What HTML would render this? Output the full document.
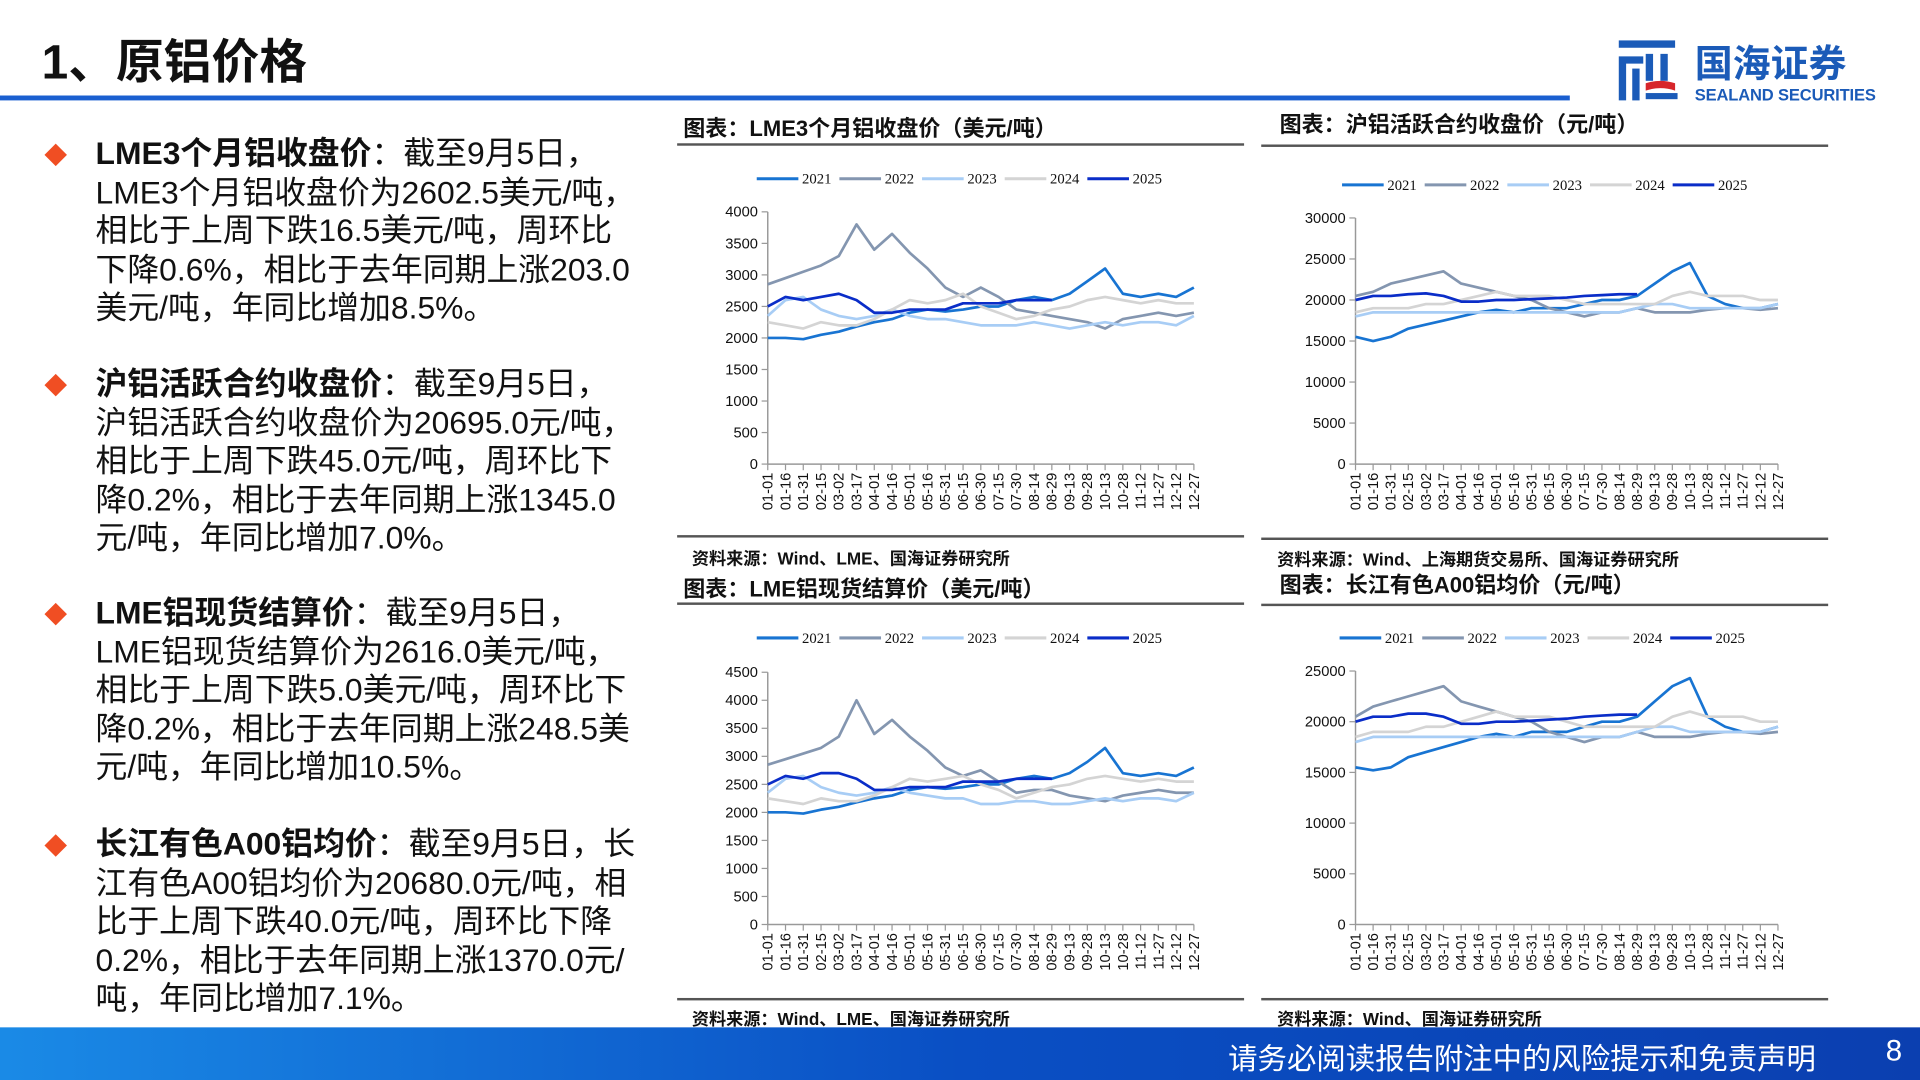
<!DOCTYPE html>
<html><head><meta charset="utf-8">
<style>
html,body{margin:0;padding:0;background:#fff;}
body{width:1920px;height:1080px;overflow:hidden;font-family:"Liberation Sans","Noto Sans CJK SC",sans-serif;}
#wrap{position:absolute;left:0;top:0;width:1568px;height:882px;transform:scale(1.22449);transform-origin:0 0;}
.abs{position:absolute;}
.bul{position:absolute;left:78px;font-size:26px;line-height:31.5px;color:#111;white-space:nowrap;}
.bul b{font-weight:bold;}
.dia{position:absolute;left:39px;width:13px;height:13px;background:#f04e23;transform:rotate(45deg);}
.ct{position:absolute;font-size:18px;font-weight:bold;color:#111;white-space:nowrap;}
.ln{position:absolute;height:2px;background:#555;}
.src{position:absolute;font-size:14px;font-weight:bold;color:#111;white-space:nowrap;}
svg text{font-family:"Liberation Sans",sans-serif;}
</style></head><body>
<div id="wrap">
<div class="abs" style="left:34px;top:20px;font-size:39px;font-weight:bold;color:#111;">1、原铝价格</div>
<div class="abs" style="left:0;top:78px;width:1282px;height:4px;background:#1a5fd0;"></div>
<div class="abs" style="left:1318px;top:30px;width:220px;height:58px;">
<svg width="220" height="58" viewBox="0 0 220 58">
<rect x="4" y="3" width="46" height="6" fill="#1b5bb8"/>
<path d="M4 16 h20 v6 h-14 v30 h-6z" fill="#1b5bb8"/>
<rect x="15" y="26" width="6" height="26" fill="#1b5bb8"/>
<rect x="26" y="14" width="6" height="22" fill="#1b5bb8"/>
<rect x="38" y="14" width="6" height="22" fill="#1b5bb8"/>
<path d="M26 38 q12 -4 24 0 v6 q-12 -4 -24 0z" fill="#d7262b"/>
<rect x="26" y="46" width="26" height="5" fill="#1b5bb8"/>
<text x="66" y="33" font-size="31" font-weight="bold" fill="#1b5bb8" style="font-family:'Noto Sans CJK SC',sans-serif">国海证券</text>
<text x="66" y="52" font-size="13.5" font-weight="bold" fill="#1b5bb8" textLength="148">SEALAND SECURITIES</text>
</svg></div>

<div class="dia" style="top:120px"></div>
<div class="bul" style="top:110px"><b>LME3个月铝收盘价</b>：截至9月5日，<br>LME3个月铝收盘价为2602.5美元/吨，<br>相比于上周下跌16.5美元/吨，周环比<br>下降0.6%，相比于去年同期上涨203.0<br>美元/吨，年同比增加8.5%。</div>
<div class="dia" style="top:308px"></div>
<div class="bul" style="top:298px"><b>沪铝活跃合约收盘价</b>：截至9月5日，<br>沪铝活跃合约收盘价为20695.0元/吨，<br>相比于上周下跌45.0元/吨，周环比下<br>降0.2%，相比于去年同期上涨1345.0<br>元/吨，年同比增加7.0%。</div>
<div class="dia" style="top:495px"></div>
<div class="bul" style="top:485px"><b>LME铝现货结算价</b>：截至9月5日，<br>LME铝现货结算价为2616.0美元/吨，<br>相比于上周下跌5.0美元/吨，周环比下<br>降0.2%，相比于去年同期上涨248.5美<br>元/吨，年同比增加10.5%。</div>
<div class="dia" style="top:684px"></div>
<div class="bul" style="top:674px"><b>长江有色A00铝均价</b>：截至9月5日，长<br>江有色A00铝均价为20680.0元/吨，相<br>比于上周下跌40.0元/吨，周环比下降<br>0.2%，相比于去年同期上涨1370.0元/<br>吨，年同比增加7.1%。</div>

<div class="ct" style="left:558px;top:91px">图表：LME3个月铝收盘价（美元/吨）</div>
<div class="ln" style="left:553px;top:117px;width:463px"></div>
<div class="ln" style="left:553px;top:437px;width:463px"></div>
<div class="src" style="left:565px;top:446px">资料来源：Wind、LME、国海证券研究所</div>

<div class="ct" style="left:1045px;top:88px">图表：沪铝活跃合约收盘价（元/吨）</div>
<div class="ln" style="left:1030px;top:118px;width:463px"></div>
<div class="ln" style="left:1030px;top:439px;width:463px"></div>
<div class="src" style="left:1043px;top:447px">资料来源：Wind、上海期货交易所、国海证券研究所</div>

<div class="ct" style="left:558px;top:467px">图表：LME铝现货结算价（美元/吨）</div>
<div class="ln" style="left:553px;top:492px;width:463px"></div>
<div class="ln" style="left:553px;top:815px;width:463px"></div>
<div class="src" style="left:565px;top:822px">资料来源：Wind、LME、国海证券研究所</div>

<div class="ct" style="left:1045px;top:464px">图表：长江有色A00铝均价（元/吨）</div>
<div class="ln" style="left:1030px;top:493px;width:463px"></div>
<div class="ln" style="left:1030px;top:815px;width:463px"></div>
<div class="src" style="left:1043px;top:822px">资料来源：Wind、国海证券研究所</div>

<svg id="charts" class="abs" style="left:0;top:0" width="1568" height="882"></svg>

<div class="abs" style="left:0;top:839px;width:1568px;height:43px;background:linear-gradient(90deg,#1a8ae6 0%,#0a4fc4 50%,#0b3fb0 100%);"></div>
<div class="abs" style="left:1003px;top:845px;font-size:24px;color:#fff;white-space:nowrap;">请务必阅读报告附注中的风险提示和免责声明</div>
<div class="abs" style="left:1540px;top:845px;font-size:24px;color:#fff;">8</div>
</div>
<script>
var xLabels=["01-01","01-16","01-31","02-15","03-02","03-17","04-01","04-16","05-01","05-16","05-31","06-15","06-30","07-15","07-30","08-14","08-29","09-13","09-28","10-13","10-28","11-12","11-27","12-12","12-27"];
var years=["2021","2022","2023","2024","2025"];
var colors=["#1874d2","#8496b0","#a8cdf5","#d4d4d4","#0a2dc8"];
var c1Ticks=[0,500,1000,1500,2000,2500,3000,3500,4000];
var c1_2021=[2000,2000,1980,2050,2100,2180,2250,2300,2400,2450,2420,2450,2500,2500,2600,2650,2600,2700,2900,3100,2700,2650,2700,2650,2800];
var c1_2022=[2850,2950,3050,3150,3300,3800,3400,3650,3350,3100,2800,2650,2800,2650,2450,2400,2350,2300,2250,2150,2300,2350,2400,2350,2400];
var c1_2023=[2350,2600,2650,2450,2350,2300,2350,2450,2350,2300,2300,2250,2200,2200,2200,2250,2200,2150,2200,2250,2200,2250,2250,2200,2350];
var c1_2024=[2250,2200,2150,2250,2200,2200,2300,2450,2600,2550,2600,2700,2500,2400,2300,2350,2450,2500,2600,2650,2600,2550,2600,2550,2550];
var c1_2025=[2500,2650,2600,2650,2700,2600,2400,2400,2450,2450,2450,2550,2550,2550,2600,2600,2600];
var c3Ticks=[0,500,1000,1500,2000,2500,3000,3500,4000,4500];
var c3_2021=[2000,2000,1980,2050,2100,2180,2250,2300,2400,2450,2420,2450,2500,2500,2600,2650,2600,2700,2900,3150,2700,2650,2700,2650,2800];
var c3_2022=[2850,2950,3050,3150,3350,4000,3400,3650,3350,3100,2800,2650,2750,2550,2350,2400,2400,2300,2250,2200,2300,2350,2400,2350,2350];
var c3_2023=[2350,2600,2650,2450,2350,2300,2350,2450,2350,2300,2250,2250,2150,2150,2200,2200,2150,2150,2200,2250,2200,2250,2250,2200,2350];
var c3_2024=[2250,2200,2150,2250,2200,2200,2300,2450,2600,2550,2600,2650,2500,2400,2250,2350,2450,2500,2600,2650,2600,2550,2600,2550,2550];
var c3_2025=[2500,2650,2600,2700,2700,2600,2400,2400,2450,2450,2450,2550,2550,2550,2600,2600,2600];
var c2Ticks=[0,5000,10000,15000,20000,25000,30000];
var c2_2021=[15500,15000,15500,16500,17000,17500,18000,18500,18800,18500,19000,19000,19000,19500,20000,20000,20500,22000,23500,24500,20500,19500,19000,19000,19500];
var c2_2022=[20500,21000,22000,22500,23000,23500,22000,21500,21000,20500,20000,19000,18500,18000,18500,18500,19000,18500,18500,18500,18800,19000,19000,18800,19000];
var c2_2023=[18000,18500,18500,18500,18500,18500,18500,18500,18500,18500,18500,18500,18500,18500,18500,18500,19000,19500,19500,19000,19000,19000,19000,19000,19500];
var c2_2024=[18500,19000,19000,19000,19500,19500,20000,20500,21000,20500,20500,20500,20000,19500,19500,19500,19500,19500,20500,21000,20500,20500,20500,20000,20000];
var c2_2025=[20000,20500,20500,20700,20800,20500,19800,19800,20000,20000,20100,20200,20300,20500,20600,20700,20700];
var c4Ticks=[0,5000,10000,15000,20000,25000];
var c4_2021=[15500,15200,15500,16500,17000,17500,18000,18500,18800,18500,19000,19000,19000,19500,20000,20000,20500,22000,23500,24300,20500,19500,19000,19000,19500];
var c4_2022=[20500,21500,22000,22500,23000,23500,22000,21500,21000,20500,20000,19000,18500,18000,18500,18500,19000,18500,18500,18500,18800,19000,19000,18800,19000];
var c4_2023=[18000,18500,18500,18500,18500,18500,18500,18500,18500,18500,18500,18500,18500,18500,18500,18500,19000,19500,19500,19000,19000,19000,19000,19000,19500];
var c4_2024=[18500,19000,19000,19000,19500,19500,20000,20500,21000,20500,20500,20500,20000,19500,19500,19500,19500,19500,20500,21000,20500,20500,20500,20000,20000];
var c4_2025=[20000,20500,20500,20800,20800,20500,19800,19800,20000,20000,20100,20200,20300,20500,20600,20700,20700];

var NS="http://www.w3.org/2000/svg";
var root=document.getElementById('charts');
function mk(tag,attrs,parent){var e=document.createElementNS(NS,tag);for(var k in attrs)e.setAttribute(k,attrs[k]);(parent||root).appendChild(e);return e;}
function drawChart(id,box,ticks,series,legendY){
  var g=mk('g',{});
  
  
  var ymax=ticks[ticks.length-1];
  function X(i){return box.x0+(box.x1-box.x0)*i/(xLabels.length-1);}
  function Y(v){return box.y0-(box.y0-box.y1)*v/ymax;}
  mk('line',{x1:box.x0,y1:box.y1,x2:box.x0,y2:box.y0,stroke:'#999','stroke-width':1.2},g);
  mk('line',{x1:box.x0,y1:box.y0,x2:box.x1,y2:box.y0,stroke:'#999','stroke-width':1.2},g);
  ticks.forEach(function(t){
    var y=Y(t);
    mk('line',{x1:box.x0-5,y1:y,x2:box.x0,y2:y,stroke:'#999'},g);
    var tx=mk('text',{x:box.x0-8,y:y+4,'font-size':12,'text-anchor':'end',fill:'#111'},g);
    tx.textContent=t;
    
    
  });
  xLabels.forEach(function(l,i){
    var x=X(i);
    mk('line',{x1:x,y1:box.y0,x2:x,y2:box.y0+5,stroke:'#999'},g);
    var tx=mk('text',{x:0,y:0,'font-size':12,'text-anchor':'end',fill:'#111',transform:'translate('+(x+4)+','+(box.y0+7)+') rotate(-90)'},g);
    tx.textContent=l;
    
    
  });
  series.forEach(function(s,k){
    var pts=s.map(function(v,i){return X(i).toFixed(1)+','+Y(v).toFixed(1);}).join(' ');
    var p=mk('polyline',{points:pts,fill:'none',stroke:colors[k],'stroke-width':2.2,'stroke-linejoin':'round'},g);
    
    
    var lx=box.lx+k*67.5;
    mk('line',{x1:lx,y1:legendY,x2:lx+34,y2:legendY,stroke:colors[k],'stroke-width':2.5},g);
    var lt=mk('text',{x:lx+37,y:legendY+4,'font-size':12,fill:'#111',style:'font-family:Liberation Serif,serif'},g);
    lt.textContent=years[k];
    
    
  });
}
drawChart('chart-lme3m',{x0:627,x1:975,y0:379,y1:173,lx:618},c1Ticks,[c1_2021,c1_2022,c1_2023,c1_2024,c1_2025],146);
drawChart('chart-shfe',{x0:1107,x1:1452,y0:379,y1:178,lx:1096},c2Ticks,[c2_2021,c2_2022,c2_2023,c2_2024,c2_2025],151);
drawChart('chart-lme-spot',{x0:627,x1:975,y0:755,y1:549,lx:618},c3Ticks,[c3_2021,c3_2022,c3_2023,c3_2024,c3_2025],521);
drawChart('chart-a00',{x0:1107,x1:1452,y0:755,y1:548,lx:1094},c4Ticks,[c4_2021,c4_2022,c4_2023,c4_2024,c4_2025],521);
</script>
</body></html>
